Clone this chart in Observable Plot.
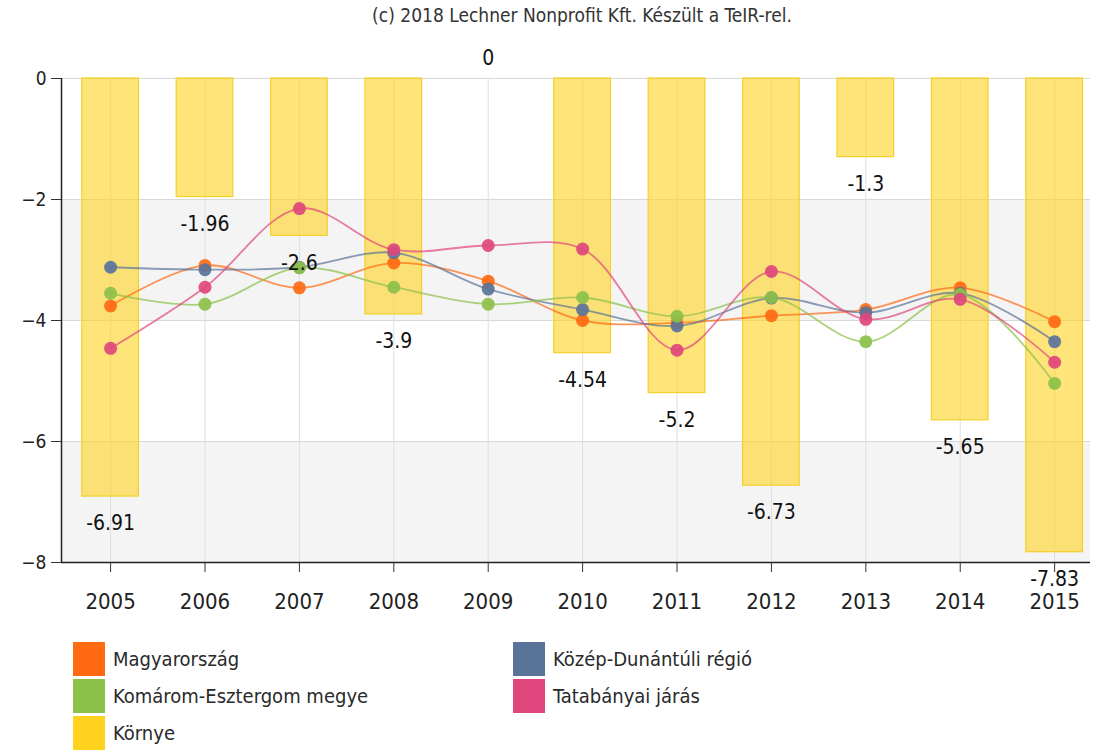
<!DOCTYPE html>
<html>
<head>
<meta charset="utf-8">
<script src="https://cdn.jsdelivr.net/npm/d3@7"></script>
<script src="https://cdn.jsdelivr.net/npm/@observablehq/plot@0.6"></script>
<style>
  html, body { margin: 0; padding: 0; background: #fff; }
  body { width: 1098px; height: 751px; overflow: hidden; font-family: "DejaVu Sans Condensed", "DejaVu Sans", sans-serif; font-stretch: condensed; }
  #caption { height: 30px; line-height: 30px; text-align: center; padding-left: 66px; font-size: 19px; color: #333; }
  #legend { position: relative; height: 121px; }
  .item { position: absolute; display: flex; align-items: center; font-size: 20px; color: #2a2a2a; }
  .sw { width: 32px; height: 34px; margin-right: 8px; }
</style>
</head>
<body>
<div id="caption">(c) 2018 Lechner Nonprofit Kft. Készült a TeIR-rel.</div>
<div id="chart"></div>
<div id="legend"></div>
<script>
// ---- data ----
const years = [2005, 2006, 2007, 2008, 2009, 2010, 2011, 2012, 2013, 2014, 2015];
const seriesNames = ["Magyarország", "Közép-Dunántúli régió", "Komárom-Esztergom megye", "Tatabányai járás", "Környe"];
const magyarorszag = [-3.76, -3.09, -3.46, -3.05, -3.35, -4.00, -4.04, -3.92, -3.82, -3.46, -4.02];
const kozepDunantul = [-3.12, -3.16, -3.12, -2.88, -3.48, -3.82, -4.09, -3.63, -3.87, -3.55, -4.35];
const komaromEsztergom = [-3.55, -3.73, -3.13, -3.45, -3.73, -3.62, -3.93, -3.62, -4.35, -3.57, -5.04];
const tatabanyai = [-4.46, -3.45, -2.15, -2.83, -2.76, -2.82, -4.49, -3.19, -3.98, -3.65, -4.69];
const kornye = [-6.91, -1.96, -2.6, -3.9, 0, -4.54, -5.2, -6.73, -1.3, -5.65, -7.83];
const kornyeLabels = ["-6.91", "-1.96", "-2.6", "-3.9", "0", "-4.54", "-5.2", "-6.73", "-1.3", "-5.65", "-7.83"];
const yTicks = [0, -2, -4, -6, -8];
const colors = ["#ff6a13", "#5a7399", "#8cc04a", "#e0467c", "#ffd21f"];

// ---- build tables ----
const lineSeries = [magyarorszag, kozepDunantul, komaromEsztergom, tatabanyai];
const lineData = [];
lineSeries.forEach((vals, i) => vals.forEach((v, j) => lineData.push({series: seriesNames[i], year: years[j], value: v})));
const barData = years.map((y, j) => ({year: y, value: kornye[j], label: kornyeLabels[j]}));
const bands = [{lo: -4, hi: -2}, {lo: -8, hi: -6}];
const xDomain = [2004.48, 2015.38];
const yDomain = [-8, 0];
const labelFont = "DejaVu Sans Condensed, DejaVu Sans, sans-serif";

const plot = Plot.plot({
  width: 1098,
  height: 600,
  marginLeft: 61,
  marginRight: 8,
  marginTop: 48,
  marginBottom: 68,
  style: {fontFamily: labelFont, background: "#fff", overflow: "visible"},
  x: {domain: xDomain},
  y: {domain: yDomain},
  color: {domain: seriesNames, range: colors},
  marks: [
    Plot.rectY(bands, {y1: "lo", y2: "hi", fill: "#f4f4f4"}),
    Plot.gridY({ticks: yTicks, stroke: "#d8d8d8", strokeOpacity: 1}),
    Plot.gridX({ticks: years, stroke: "#dedede", strokeOpacity: 1}),
    Plot.rectY(barData, {x1: d => d.year - 0.3, x2: d => d.year + 0.3, y: "value", fill: "#ffd526", fillOpacity: 0.62, stroke: "#f5cf2a", strokeWidth: 1.2}),
    Plot.line(lineData, {x: "year", y: "value", z: "series", stroke: "series", strokeWidth: 1.8, strokeOpacity: 0.7, curve: "catmull-rom"}),
    Plot.dot(lineData, {x: "year", y: "value", fill: "series", r: 6.5, fillOpacity: 0.92}),
    Plot.text(barData.filter(d => d.value < 0), {x: "year", y: "value", text: "label", dy: 27, fontSize: 21, fill: "#111"}),
    Plot.text(barData.filter(d => d.value >= 0), {x: "year", y: "value", text: "label", dy: -20, fontSize: 21, fill: "#111"}),
    Plot.ruleY([yDomain[0]], {stroke: "#222", strokeWidth: 1.5}),
    Plot.ruleX([xDomain[0]], {stroke: "#222", strokeWidth: 1.5}),
    Plot.axisY({ticks: yTicks, tickSize: 10, tickPadding: 5, fontSize: 19, label: null, stroke: "#333", fill: "#222"}),
    Plot.axisX({ticks: years, tickFormat: d => String(d), tickSize: 10, tickPadding: 21, fontSize: 22, label: null, stroke: "#333", fill: "#222"})
  ]
});
document.getElementById("chart").appendChild(plot);

// ---- legend ----
const legend = document.getElementById("legend");
const positions = [[73, 12], [513, 12], [73, 49], [513, 49], [73, 86]];
seriesNames.forEach((name, i) => {
  const it = document.createElement("div");
  it.className = "item";
  it.style.left = positions[i][0] + "px";
  it.style.top = positions[i][1] + "px";
  const sw = document.createElement("div");
  sw.className = "sw";
  sw.style.background = colors[i];
  const t = document.createElement("span");
  t.textContent = name;
  it.appendChild(sw);
  it.appendChild(t);
  legend.appendChild(it);
});
</script>
</body>
</html>
